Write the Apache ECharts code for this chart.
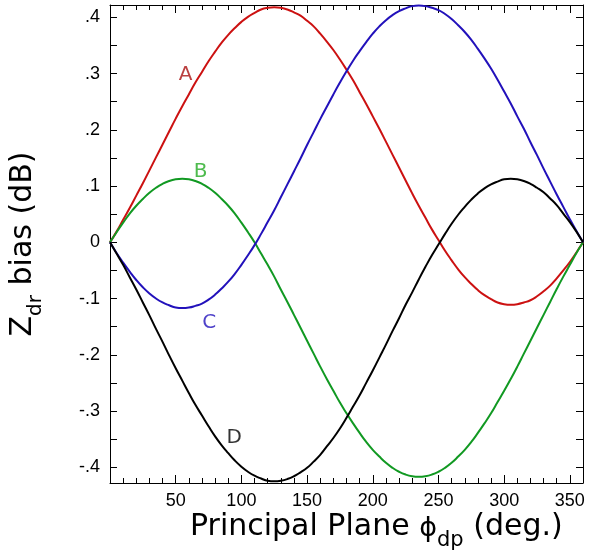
<!DOCTYPE html>
<html>
<head>
<meta charset="utf-8">
<script src="https://cdn.jsdelivr.net/npm/echarts@6/dist/echarts.min.js"></script>
<style>html,body{margin:0;padding:0;background:#fff;}#c{width:591px;height:560px;}</style>
</head>
<body>
<div id="c"></div>
<script>
const phi = [0,5,10,15,20,25,30,35,40,45,50,55,60,65,70,75,80,85,90,95,100,105,110,115,120,125,130,135,140,145,150,155,160,165,170,175,180,185,190,195,200,205,210,215,220,225,230,235,240,245,250,255,260,265,270,275,280,285,290,295,300,305,310,315,320,325,330,335,340,345,350,355,360];
const seriesA = [0,0.019,0.040,0.061,0.083,0.105,0.128,0.151,0.174,0.197,0.220,0.242,0.263,0.284,0.303,0.322,0.339,0.355,0.369,0.381,0.392,0.401,0.408,0.414,0.417,0.418,0.417,0.414,0.409,0.403,0.394,0.384,0.371,0.357,0.342,0.325,0.307,0.288,0.267,0.246,0.224,0.202,0.179,0.156,0.133,0.110,0.087,0.065,0.044,0.023,0.004,-0.015,-0.032,-0.048,-0.062,-0.074,-0.085,-0.094,-0.101,-0.107,-0.110,-0.111,-0.110,-0.107,-0.103,-0.096,-0.087,-0.077,-0.064,-0.050,-0.035,-0.018,0];
const seriesB = [0,0.018,0.035,0.051,0.065,0.077,0.088,0.097,0.104,0.109,0.112,0.113,0.112,0.109,0.104,0.097,0.088,0.077,0.065,0.051,0.035,0.018,0.000,-0.020,-0.040,-0.061,-0.084,-0.106,-0.129,-0.152,-0.175,-0.198,-0.221,-0.243,-0.264,-0.285,-0.304,-0.322,-0.339,-0.355,-0.369,-0.381,-0.392,-0.401,-0.408,-0.413,-0.416,-0.417,-0.416,-0.413,-0.408,-0.401,-0.392,-0.381,-0.369,-0.355,-0.339,-0.322,-0.304,-0.284,-0.264,-0.243,-0.221,-0.198,-0.175,-0.152,-0.129,-0.106,-0.083,-0.061,-0.040,-0.019,0];
const seriesC = [0,-0.019,-0.036,-0.052,-0.067,-0.080,-0.091,-0.100,-0.107,-0.112,-0.116,-0.117,-0.116,-0.113,-0.109,-0.102,-0.093,-0.082,-0.070,-0.056,-0.040,-0.023,-0.005,0.015,0.036,0.057,0.080,0.103,0.126,0.149,0.173,0.196,0.219,0.241,0.263,0.284,0.304,0.323,0.340,0.356,0.371,0.384,0.395,0.404,0.411,0.416,0.420,0.421,0.420,0.417,0.413,0.406,0.397,0.386,0.374,0.360,0.344,0.327,0.309,0.289,0.268,0.247,0.224,0.202,0.178,0.155,0.131,0.108,0.085,0.063,0.041,0.020,0];
const seriesD = [0,-0.020,-0.040,-0.062,-0.084,-0.107,-0.130,-0.154,-0.177,-0.201,-0.224,-0.246,-0.268,-0.289,-0.308,-0.327,-0.345,-0.361,-0.375,-0.388,-0.399,-0.408,-0.415,-0.420,-0.424,-0.425,-0.424,-0.421,-0.416,-0.409,-0.401,-0.390,-0.378,-0.363,-0.348,-0.331,-0.312,-0.292,-0.272,-0.250,-0.228,-0.205,-0.182,-0.158,-0.135,-0.111,-0.089,-0.066,-0.044,-0.023,-0.004,0.015,0.033,0.049,0.063,0.076,0.087,0.096,0.103,0.108,0.112,0.113,0.112,0.109,0.104,0.097,0.089,0.078,0.066,0.051,0.036,0.019,0];
const curveNames = ['A','B','C','D'];
const curveColors = ['#cc1111','#119922','#2211bb','#000000'];
const labelColors = ['#aa1111','#22aa22','#2211bb','#000000'];
const labelPhi = [57.5,69,75.5,94.5];
const labelVal = [0.298,0.125,-0.143,-0.347];
const yTickLabels = [-0.4,-0.3,-0.2,-0.1,0,0.1,0.2,0.3,0.4];
const yTicks = [-0.4,-0.35,-0.3,-0.25,-0.2,-0.15,-0.1,-0.05,0,0.05,0.1,0.15,0.2,0.25,0.3,0.35,0.4];
const xMin = 0, xMax = 360, yMin = -0.428, yMax = 0.422;

const FONT = 'Liberation Sans';
const TFONT = 'DejaVu Sans';
function yFmt(v){
  if (Math.abs(v) < 1e-9) return '0';
  const s = Math.abs(v).toFixed(1).replace(/^0/, '');
  return (v < 0 ? '-' : '') + s;
}
const allSeries = [seriesA, seriesB, seriesC, seriesD];
const chart = echarts.init(document.getElementById('c'), null, {renderer:'canvas'});
const series = allSeries.map((vals, i) => ({
  name: curveNames[i],
  type: 'line',
  xAxisIndex: 0, yAxisIndex: 0,
  data: phi.map((p, j) => [p, vals[j]]),
  smooth: true,
  showSymbol: false,
  symbol: 'none',
  lineStyle: {color: curveColors[i], width: 2},
  clip: true,
  z: 3
}));
series.push({
  type: 'scatter',
  xAxisIndex: 0, yAxisIndex: 0,
  symbol: 'circle', symbolSize: 1,
  itemStyle: {color: 'rgba(0,0,0,0)'},
  silent: true,
  z: 5,
  data: curveNames.map((n, i) => ({
    value: [labelPhi[i], labelVal[i]],
    label: {show: true, position: 'inside', formatter: n, color: labelColors[i], fontFamily: TFONT, fontSize: 20}
  }))
});
const axisLine = {show: true, onZero: false, lineStyle: {color: '#000', width: 1}};
chart.setOption({
  animation: false,
  backgroundColor: '#fff',
  grid: {left: 107, right: 8, top: 5, bottom: 77, containLabel: false},
  xAxis: [
    {type: 'value', min: xMin, max: xMax, interval: 50, position: 'bottom',
     axisLine: axisLine,
     axisTick: {show: true, inside: true, length: 8, lineStyle: {color: '#000'}},
     minorTick: {show: true, splitNumber: 5, length: 5, lineStyle: {color: '#000'}},
     splitLine: {show: false},
     axisLabel: {color: '#000', fontFamily: FONT, fontSize: 18, margin: 9,
       formatter: v => (v === 0 || v === 360) ? '' : String(v)}},
    {type: 'value', min: xMin, max: xMax, interval: 50, position: 'top',
     axisLine: axisLine,
     axisTick: {show: true, inside: true, length: 8, lineStyle: {color: '#000'}},
     minorTick: {show: true, splitNumber: 5, length: 5, lineStyle: {color: '#000'}},
     splitLine: {show: false}, axisLabel: {show: false}}
  ],
  yAxis: [
    {type: 'value', min: yMin, max: yMax, position: 'left',
     axisLine: axisLine,
     axisTick: {show: true, inside: true, length: 7, customValues: yTicks, lineStyle: {color: '#000'}},
     splitLine: {show: false},
     axisLabel: {color: '#000', fontFamily: FONT, fontSize: 18, margin: 10, customValues: yTickLabels, formatter: yFmt},
     name: '{z|Z}{s|dr}{n| bias (dB)}', nameLocation: 'middle', nameGap: 72, nameRotate: 90,
     nameTextStyle: {rich: {
       z: {fontFamily: TFONT, fontSize: 30, color: '#000', verticalAlign: 'bottom'},
       n: {fontFamily: TFONT, fontSize: 30, color: '#000', verticalAlign: 'bottom'},
       s: {fontFamily: TFONT, fontSize: 20, color: '#000', verticalAlign: 'bottom', padding: [0,0,-8,0]}
     }}},
    {type: 'value', min: yMin, max: yMax, position: 'right',
     axisLine: axisLine,
     axisTick: {show: true, inside: true, length: 7, customValues: yTicks, lineStyle: {color: '#000'}},
     splitLine: {show: false}, axisLabel: {show: false}}
  ],
  graphic: [{
    type: 'text', left: 190, top: 512, silent: true,
    style: {
      text: '{a|Principal Plane }{p|ϕ}{s|dp}{a| (deg.)}',
      rich: {
        a: {fontFamily: TFONT, fontSize: 30, fill: '#000', verticalAlign: 'bottom'},
        p: {fontFamily: TFONT, fontSize: 27, fill: '#000', verticalAlign: 'bottom'},
        s: {fontFamily: TFONT, fontSize: 21, fill: '#000', verticalAlign: 'bottom', padding: [0,0,-9,0]}
      }
    }
  }],
  series: series
});
</script>
</body>
</html>
